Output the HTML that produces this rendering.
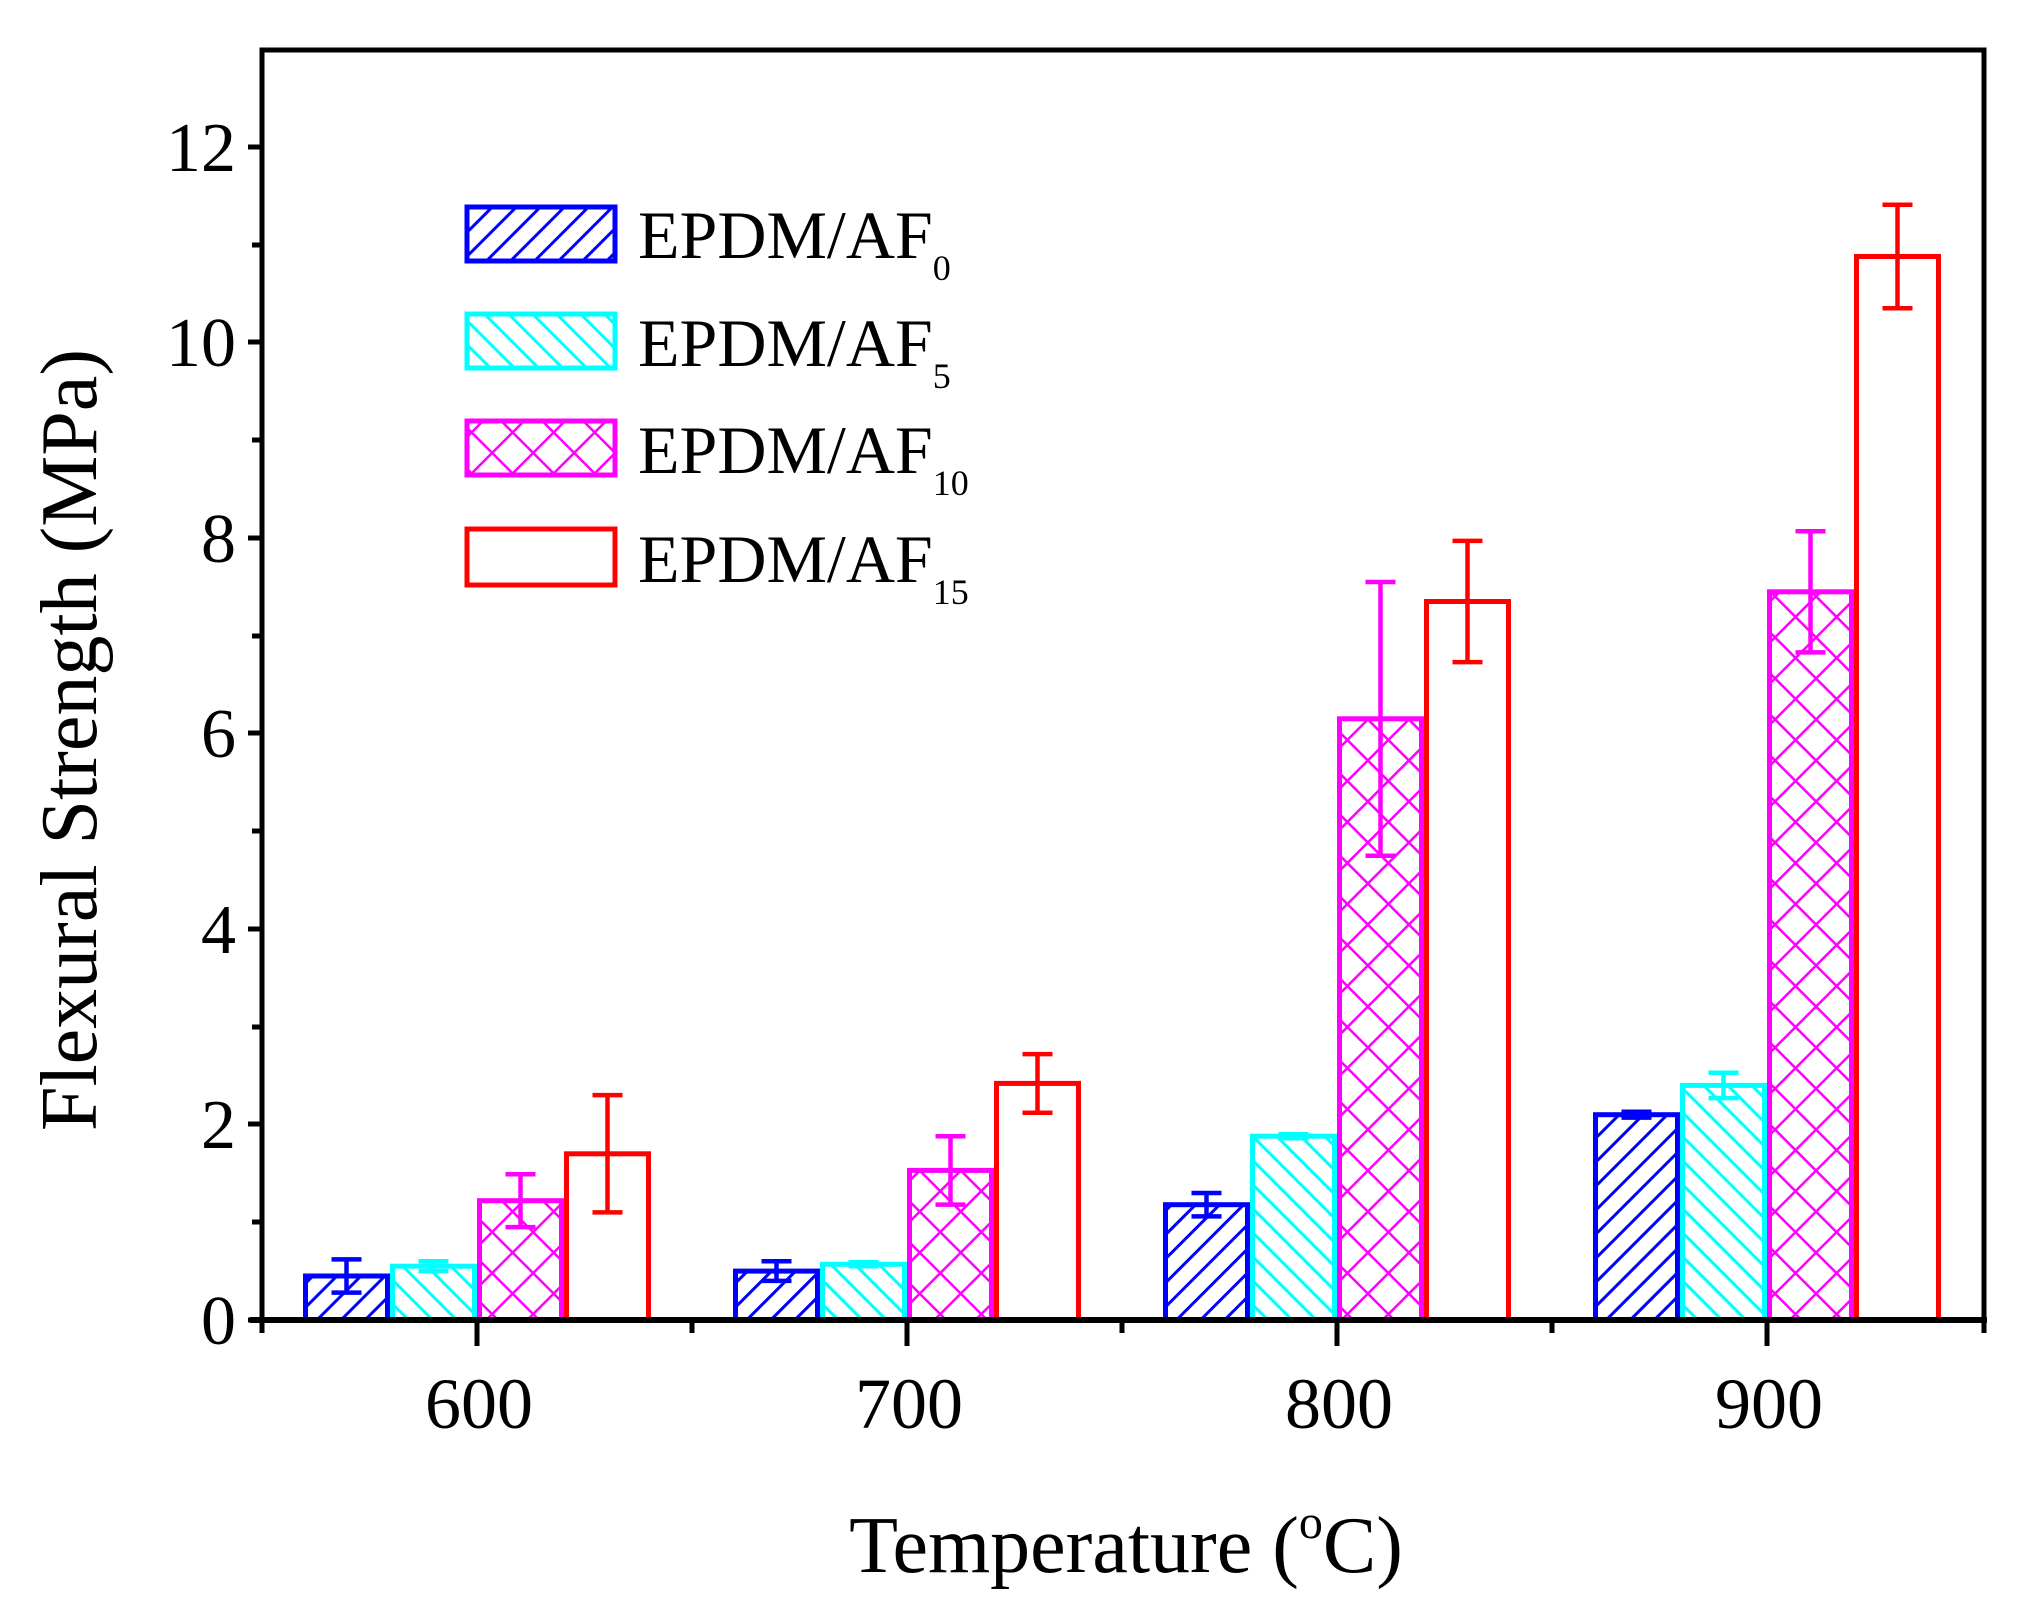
<!DOCTYPE html>
<html><head><meta charset="utf-8"><style>
html,body{margin:0;padding:0;background:#fff;}
svg{display:block;}
text{font-family:"Liberation Serif",serif;fill:#000;}
</style></head><body>
<svg width="2040" height="1611" viewBox="0 0 2040 1611" xmlns="http://www.w3.org/2000/svg">
<defs>
<pattern id="pb" patternUnits="userSpaceOnUse" width="17" height="17" patternTransform="rotate(45)">
<line x1="0" y1="0" x2="0" y2="17" stroke="#0000ff" stroke-width="6"/></pattern>
<pattern id="pc" patternUnits="userSpaceOnUse" width="17" height="17" patternTransform="rotate(-45)">
<line x1="0" y1="0" x2="0" y2="17" stroke="#00ffff" stroke-width="6"/></pattern>
<pattern id="pm" patternUnits="userSpaceOnUse" width="29" height="29" patternTransform="rotate(45)">
<line x1="0" y1="0" x2="0" y2="29" stroke="#ff00ff" stroke-width="5"/>
<line x1="0" y1="0" x2="29" y2="0" stroke="#ff00ff" stroke-width="5"/></pattern>
</defs>
<g stroke-width="5">
<rect x="305.5" y="1276" width="82" height="44" fill="url(#pb)" stroke="#0000ff"/>
<rect x="392.5" y="1266.2" width="82" height="53.8" fill="url(#pc)" stroke="#00ffff"/>
<rect x="479.5" y="1200.7" width="82" height="119.3" fill="url(#pm)" stroke="#ff00ff"/>
<rect x="566.5" y="1153.8" width="82" height="166.2" fill="#fff" stroke="#ff0000"/>
<g transform="translate(-3,0)">
<rect x="738.5" y="1271.1" width="82" height="48.9" fill="url(#pb)" stroke="#0000ff"/>
<rect x="825.5" y="1264.3" width="82" height="55.7" fill="url(#pc)" stroke="#00ffff"/>
<rect x="912.5" y="1170.4" width="82" height="149.6" fill="url(#pm)" stroke="#ff00ff"/>
<rect x="999.5" y="1083.4" width="82" height="236.6" fill="#fff" stroke="#ff0000"/>
</g>
<g transform="translate(-6,0)">
<rect x="1171.5" y="1204.7" width="82" height="115.3" fill="url(#pb)" stroke="#0000ff"/>
<rect x="1258.5" y="1136.2" width="82" height="183.8" fill="url(#pc)" stroke="#00ffff"/>
<rect x="1345.5" y="718.8" width="82" height="601.2" fill="url(#pm)" stroke="#ff00ff"/>
<rect x="1432.5" y="601.5" width="82" height="718.5" fill="#fff" stroke="#ff0000"/>
</g>
<g transform="translate(-9,0)">
<rect x="1604.5" y="1114.7" width="82" height="205.3" fill="url(#pb)" stroke="#0000ff"/>
<rect x="1691.5" y="1085.4" width="82" height="234.6" fill="url(#pc)" stroke="#00ffff"/>
<rect x="1778.5" y="591.8" width="82" height="728.2" fill="url(#pm)" stroke="#ff00ff"/>
<rect x="1865.5" y="256.5" width="82" height="1063.5" fill="#fff" stroke="#ff0000"/>
</g>
</g>
<g fill="none" stroke-width="4.5">
<path stroke="#0000ff" d="M331.5 1259.4H361.5M346.5 1259.4V1292.6M331.5 1292.6H361.5"/>
<path stroke="#00ffff" d="M418.5 1261.3H448.5M433.5 1261.3V1271.1M418.5 1271.1H448.5"/>
<path stroke="#ff00ff" d="M505.5 1174.3H535.5M520.5 1174.3V1227.1M505.5 1227.1H535.5"/>
<path stroke="#ff0000" d="M592.5 1095.1H622.5M607.5 1095.1V1212.4M592.5 1212.4H622.5"/>
<g transform="translate(-3,0)">
<path stroke="#0000ff" d="M764.5 1261.3H794.5M779.5 1261.3V1280.9M764.5 1280.9H794.5"/>
<path stroke="#00ffff" d="M851.5 1262.3H881.5M866.5 1262.3V1266.2M851.5 1266.2H881.5"/>
<path stroke="#ff00ff" d="M938.5 1136.2H968.5M953.5 1136.2V1204.6M938.5 1204.6H968.5"/>
<path stroke="#ff0000" d="M1025.5 1054.1H1055.5M1040.5 1054.1V1112.7M1025.5 1112.7H1055.5"/>
</g>
<g transform="translate(-6,0)">
<path stroke="#0000ff" d="M1197.5 1193H1227.5M1212.5 1193V1216.4M1197.5 1216.4H1227.5"/>
<path stroke="#00ffff" d="M1284.5 1134.3H1314.5M1299.5 1134.3V1138.2M1284.5 1138.2H1314.5"/>
<path stroke="#ff00ff" d="M1371.5 582H1401.5M1386.5 582V855.7M1371.5 855.7H1401.5"/>
<path stroke="#ff0000" d="M1458.5 540.9H1488.5M1473.5 540.9V662.1M1458.5 662.1H1488.5"/>
</g>
<g transform="translate(-9,0)">
<path stroke="#0000ff" d="M1630.5 1111.8H1660.5M1645.5 1111.8V1117.6M1630.5 1117.6H1660.5"/>
<path stroke="#00ffff" d="M1717.5 1072.7H1747.5M1732.5 1072.7V1098.1M1717.5 1098.1H1747.5"/>
<path stroke="#ff00ff" d="M1804.5 531.2H1834.5M1819.5 531.2V652.4M1804.5 652.4H1834.5"/>
<path stroke="#ff0000" d="M1891.5 204.7H1921.5M1906.5 204.7V308.3M1891.5 308.3H1921.5"/>
</g>
</g>
<rect x="262" y="50" width="1722" height="1270" fill="none" stroke="#000" stroke-width="5"/>
<line x1="250" y1="1320" x2="1987" y2="1320" stroke="#000" stroke-width="6"/>
<g stroke="#000" stroke-width="5">
<line x1="248" y1="1320" x2="262" y2="1320"/>
<line x1="252" y1="1222" x2="262" y2="1222"/>
<line x1="248" y1="1124" x2="262" y2="1124"/>
<line x1="252" y1="1027" x2="262" y2="1027"/>
<line x1="248" y1="929" x2="262" y2="929"/>
<line x1="252" y1="831" x2="262" y2="831"/>
<line x1="248" y1="733" x2="262" y2="733"/>
<line x1="252" y1="636" x2="262" y2="636"/>
<line x1="248" y1="538" x2="262" y2="538"/>
<line x1="252" y1="440" x2="262" y2="440"/>
<line x1="248" y1="342" x2="262" y2="342"/>
<line x1="252" y1="245" x2="262" y2="245"/>
<line x1="248" y1="147" x2="262" y2="147"/>
<line x1="262" y1="1320" x2="262" y2="1333"/>
<line x1="477" y1="1320" x2="477" y2="1346"/>
<line x1="692" y1="1320" x2="692" y2="1333"/>
<line x1="907" y1="1320" x2="907" y2="1346"/>
<line x1="1122" y1="1320" x2="1122" y2="1333"/>
<line x1="1337" y1="1320" x2="1337" y2="1346"/>
<line x1="1552" y1="1320" x2="1552" y2="1333"/>
<line x1="1767" y1="1320" x2="1767" y2="1346"/>
<line x1="1984" y1="1320" x2="1984" y2="1333"/>
</g>
<g font-size="70" text-anchor="end">
<text x="236" y="1344">0</text>
<text x="236" y="1148">2</text>
<text x="236" y="953">4</text>
<text x="236" y="757">6</text>
<text x="236" y="562">8</text>
<text x="236" y="366">10</text>
<text x="236" y="171">12</text>
</g>
<g font-size="72" text-anchor="middle">
<text x="479" y="1428">600</text>
<text x="909" y="1428">700</text>
<text x="1339" y="1428">800</text>
<text x="1769" y="1428">900</text>
</g>
<text x="1126" y="1572" font-size="80" text-anchor="middle">Temperature (<tspan font-size="48" dy="-34">o</tspan><tspan dy="34">C)</tspan></text>
<text transform="translate(96,740) rotate(-90)" font-size="80" text-anchor="middle">Flexural Strength (MPa)</text>
<rect x="467" y="207" width="148" height="54" fill="url(#pb)" stroke="#0000ff" stroke-width="5"/>
<rect x="467" y="314" width="148" height="54" fill="url(#pc)" stroke="#00ffff" stroke-width="5"/>
<rect x="467" y="421" width="148" height="54" fill="url(#pm)" stroke="#ff00ff" stroke-width="5"/>
<rect x="467" y="529" width="148" height="56" fill="#fff" stroke="#ff0000" stroke-width="5"/>
<g font-size="68">
<text x="638" y="258">EPDM/AF<tspan font-size="36" dy="22">0</tspan></text>
<text x="638" y="366">EPDM/AF<tspan font-size="36" dy="22">5</tspan></text>
<text x="638" y="473">EPDM/AF<tspan font-size="36" dy="22">10</tspan></text>
<text x="638" y="582">EPDM/AF<tspan font-size="36" dy="22">15</tspan></text>
</g>
</svg>
</body></html>
